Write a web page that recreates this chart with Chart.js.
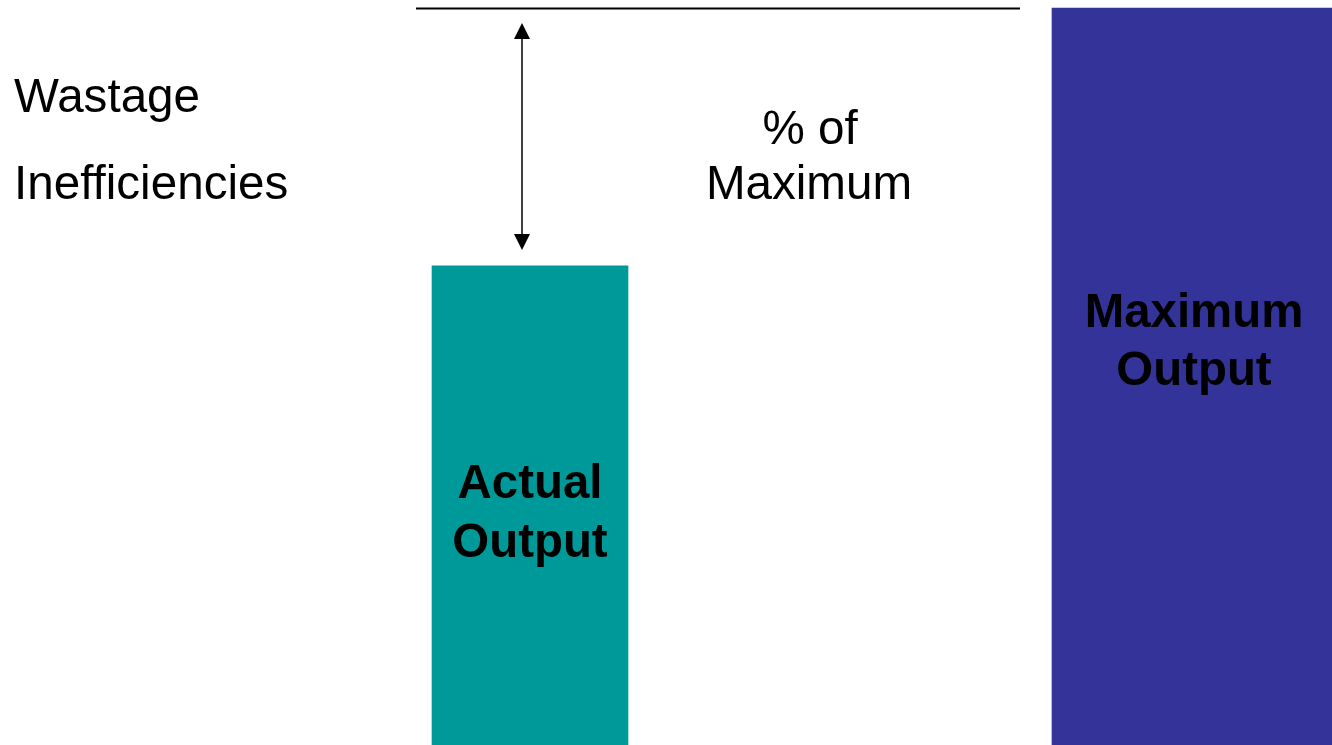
<!DOCTYPE html>
<html>
<head>
<meta charset="utf-8">
<script src="https://cdn.jsdelivr.net/npm/chart.js@4/dist/chart.umd.min.js"></script>
<style>
  html, body { margin: 0; padding: 0; background: #ffffff; overflow: hidden; }
  #wrap { width: 1332px; height: 745px; position: relative; }
</style>
</head>
<body>
<div id="wrap"><canvas id="chart" width="1332" height="745"></canvas></div>
<script>
// Output as a share of the maximum possible output
const categories = ['', 'Actual Output', '', '', 'Maximum Output'];
const actualOutput = [null, 65, null, null, null];
const maximumOutput = [null, null, null, null, 100];
const sideLabels = ['Wastage', 'Inefficiencies'];
const gapLabel = ['% of', 'Maximum'];
const actualLabel = ['Actual', 'Output'];
const maximumLabel = ['Maximum', 'Output'];

const FONT = '"Liberation Sans", Arial, Helvetica, sans-serif';

// Annotations: the maximum line, the gap arrow and all text
const annotations = {
  id: 'annotations',
  afterDatasetsDraw(chart) {
    const { ctx, scales: { y } } = chart;
    const actualBar = chart.getDatasetMeta(0).data[1];
    const maxBar = chart.getDatasetMeta(1).data[4];
    const topY = y.getPixelForValue(100);
    const actualTop = actualBar.y;
    const aLeft = actualBar.x - actualBar.width / 2;
    const mLeft = maxBar.x - maxBar.width / 2;

    ctx.save();
    // line at the maximum level
    ctx.strokeStyle = '#000000';
    ctx.lineWidth = 2;
    ctx.beginPath();
    ctx.moveTo(aLeft - 16, topY + 0.5);
    ctx.lineTo(mLeft - 32, topY + 0.5);
    ctx.stroke();

    // double-headed arrow spanning the gap
    const ax = actualBar.x - 8;
    const y1 = topY + 15, y2 = actualTop - 16;
    const head = 16, hw = 8;
    ctx.lineWidth = 1.5;
    ctx.beginPath();
    ctx.moveTo(ax, y1 + head);
    ctx.lineTo(ax, y2 - head);
    ctx.stroke();
    ctx.fillStyle = '#000000';
    ctx.beginPath();
    ctx.moveTo(ax, y1);
    ctx.lineTo(ax - hw, y1 + head);
    ctx.lineTo(ax + hw, y1 + head);
    ctx.closePath();
    ctx.fill();
    ctx.beginPath();
    ctx.moveTo(ax, y2);
    ctx.lineTo(ax - hw, y2 - head);
    ctx.lineTo(ax + hw, y2 - head);
    ctx.closePath();
    ctx.fill();

    // text
    ctx.fillStyle = '#000000';
    ctx.textBaseline = 'alphabetic';
    ctx.font = '47.6px ' + FONT;
    ctx.textAlign = 'left';
    ctx.fillText(sideLabels[0], 14, 112);
    ctx.fillText(sideLabels[1], 14, 199);

    ctx.textAlign = 'center';
    ctx.fillText(gapLabel[0], 810, 144);
    ctx.fillText(gapLabel[1], 809, 199);

    ctx.font = 'bold 47.4px ' + FONT;
    ctx.fillText(actualLabel[0], actualBar.x, actualTop + 232);
    ctx.fillText(actualLabel[1], actualBar.x, actualTop + 291);
    ctx.fillText(maximumLabel[0], maxBar.x + 2, maxBar.y + 319);
    ctx.fillText(maximumLabel[1], maxBar.x + 2, maxBar.y + 377);
    ctx.restore();
  }
};

new Chart(document.getElementById('chart'), {
  type: 'bar',
  data: {
    labels: categories,
    datasets: [
      {
        label: 'Actual Output',
        data: actualOutput,
        backgroundColor: '#009999',
        barThickness: 196,
        clip: false
      },
      {
        label: 'Maximum Output',
        data: maximumOutput,
        backgroundColor: '#333399',
        barThickness: 280,
        clip: false
      }
    ]
  },
  options: {
    responsive: false,
    animation: false,
    grouped: false,
    layout: { padding: { left: 199, right: 29.67, top: 8, bottom: 0 } },
    plugins: { legend: { display: false }, tooltip: { enabled: false } },
    scales: {
      x: { display: false, offset: true },
      y: { display: false, min: 0, max: 100 }
    }
  },
  plugins: [annotations]
});
</script>
</body>
</html>
